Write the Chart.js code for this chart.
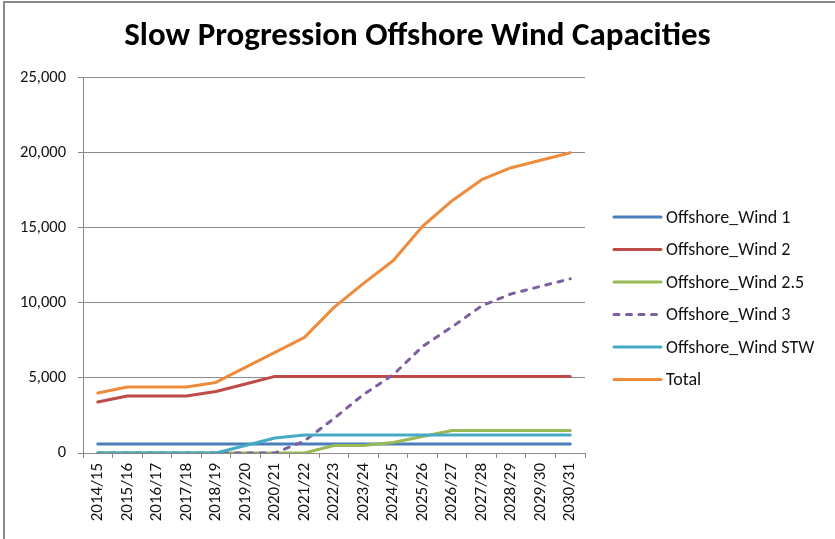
<!DOCTYPE html>
<html lang="en">
<head>
  <meta charset="UTF-8">
  <title>Slow Progression Offshore Wind Capacities</title>
  <script src="https://cdn.jsdelivr.net/npm/chart.js"></script>
  <style>
    html, body {
      margin: 0;
      width: 835px;
      height: 539px;
      background: #fff;
      overflow: hidden;
    }
    .frame {
      position: fixed;
      left: 3px;
      top: 1px;
      width: 900px;
      height: 600px;
      border-top: 2px solid #8a8a8a;
      border-left: 2px solid #8a8a8a;
      pointer-events: none;
    }
    #wrap {
      position: absolute;
      left: 0;
      top: 0;
      width: 835px;
      height: 539px;
    }
  </style>
</head>
<body>
  <div id="wrap"><canvas id="windChart" width="835" height="539"></canvas></div>
  <div class="frame"></div>

  <script>
    const years = ['2014/15', '2015/16', '2016/17', '2017/18', '2018/19', '2019/20', '2020/21', '2021/22',
      '2022/23', '2023/24', '2024/25', '2025/26', '2026/27', '2027/28', '2028/29', '2029/30', '2030/31'];

    const wind1   = [600, 600, 600, 600, 600, 600, 600, 600, 600, 600, 600, 600, 600, 600, 600, 600, 600];
    const wind2   = [3400, 3800, 3800, 3800, 4100, 4600, 5100, 5100, 5100, 5100, 5100, 5100, 5100, 5100, 5100, 5100, 5100];
    const wind25  = [0, 0, 0, 0, 0, 0, 0, 0, 500, 500, 700, 1100, 1500, 1500, 1500, 1500, 1500];
    const wind3   = [0, 0, 0, 0, 0, 0, 0, 800, 2300, 3900, 5200, 7100, 8400, 9800, 10600, 11100, 11600];
    const windSTW = [0, 0, 0, 0, 0, 500, 1000, 1200, 1200, 1200, 1200, 1200, 1200, 1200, 1200, 1200, 1200];
    const total   = [4000, 4400, 4400, 4400, 4700, 5700, 6700, 7700, 9700, 11300, 12800, 15100, 16800, 18200, 19000, 19500, 20000];

    const yTicks = [0, 5000, 10000, 15000, 20000, 25000];

    const FONT = 'Carlito, Lato, sans-serif';

    const series = [
      { label: 'Offshore_Wind 1', data: wind1, color: '#4A7EBB' },
      { label: 'Offshore_Wind 2', data: wind2, color: '#BE4B48' },
      { label: 'Offshore_Wind 2.5', data: wind25, color: '#98B954' },
      { label: 'Offshore_Wind 3', data: wind3, color: '#7D60A0', dash: [5, 7.5] },
      { label: 'Offshore_Wind STW', data: windSTW, color: '#46AAC5' },
      { label: 'Total', data: total, color: '#EE8C3E' }
    ];

    // legend on the right, drawn beside the plot
    const sideLegend = {
      id: 'sideLegend',
      afterDraw(chart) {
        const ctx = chart.ctx;
        ctx.save();
        ctx.font = '18px ' + FONT;
        ctx.textBaseline = 'middle';
        ctx.fillStyle = '#111';
        chart.data.datasets.forEach((ds, i) => {
          const y = 217 + i * 32.5;
          ctx.strokeStyle = ds.borderColor;
          ctx.lineWidth = 3;
          ctx.lineCap = 'round';
          ctx.setLineDash(ds.borderDash || []);
          ctx.beginPath();
          ctx.moveTo(614, y);
          ctx.lineTo(661, y);
          ctx.stroke();
          ctx.setLineDash([]);
          ctx.fillText(ds.label, 666, y + 1);
        });
        ctx.restore();
      }
    };

    const ctx = document.getElementById('windChart').getContext('2d');
    new Chart(ctx, {
      type: 'line',
      data: {
        labels: years,
        datasets: series.map((s, i) => ({
          label: s.label,
          data: s.data,
          borderColor: s.color,
          backgroundColor: s.color,
          borderWidth: 3,
          borderDash: s.dash || [],
          borderCapStyle: 'round',
          borderJoinStyle: 'round',
          pointRadius: 0,
          tension: 0,
          order: series.length - i,
          clip: { left: 5, right: 5, top: 5, bottom: 0 }
        }))
      },
      options: {
        responsive: false,
        animation: false,
        plugins: {
          legend: { display: false },
          tooltip: { enabled: false },
          title: {
            display: true,
            text: 'Slow Progression Offshore Wind Capacities',
            color: '#000',
            font: { family: FONT, size: 33, weight: 'bold' },
            padding: { top: 17, bottom: 21 }
          }
        },
        scales: {
          x: {
            offset: true,
            grid: {
              offset: true,
              drawOnChartArea: false,
              drawTicks: true,
              tickLength: 5,
              color: '#8a8a8a'
            },
            border: { color: '#8a8a8a', width: 1 },
            ticks: {
              autoSkip: false,
              minRotation: 90,
              maxRotation: 90,
              padding: 5,
              color: '#111',
              font: { family: FONT, size: 17 }
            },
            afterFit(scale) { scale.height = 86; }
          },
          y: {
            min: 0,
            max: 25000,
            afterBuildTicks(scale) {
              scale.ticks = yTicks.map(v => ({ value: v }));
            },
            grid: {
              color: '#8a8a8a',
              tickLength: 5
            },
            border: { color: '#8a8a8a', width: 1 },
            ticks: {
              padding: 12,
              color: '#111',
              font: { family: FONT, size: 16.5 },
              callback: v => v.toLocaleString('en-US')
            },
            afterFit(scale) { scale.width = 83; }
          },
          // empty right-hand axis keeps room for the legend
          side: {
            position: 'right',
            display: true,
            grid: { display: false },
            border: { display: false },
            ticks: { display: false },
            afterFit(scale) { scale.width = 250; }
          }
        }
      },
      plugins: [sideLegend]
    });
  </script>
</body>
</html>
